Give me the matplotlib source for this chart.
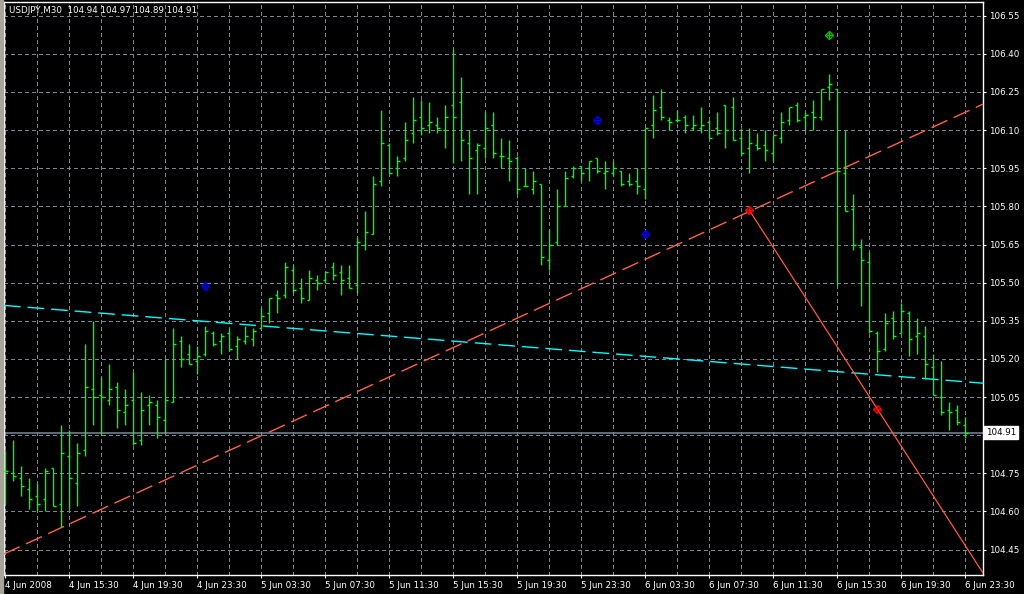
import numpy as np
import matplotlib
matplotlib.use('Agg')
import matplotlib.pyplot as plt
from matplotlib.patches import Rectangle
import matplotlib.transforms as mtransforms

# USDJPY M30, bar 0 = 4 Jun 2008 11:30
opens = [104.76, 104.75, 104.73, 104.69, 104.66, 104.65, 104.77, 104.63, 104.82, 104.71,
         104.84, 105.08, 105.06, 105.04, 105.09, 104.99, 105.04, 104.88, 105.02, 105.02,
         104.96, 105.03, 105.27, 105.22, 105.19, 105.22, 105.30, 105.27, 105.30, 105.25,
         105.27, 105.28, 105.32, 105.38, 105.45, 105.45, 105.55, 105.48, 105.43, 105.51,
         105.51, 105.56, 105.54, 105.52, 105.49, 105.65, 105.69, 105.90, 106.04, 105.95,
         105.99, 106.09, 106.15, 106.12, 106.12, 106.10, 106.20, 106.21, 106.05, 106.02,
         106.03, 106.12, 106.00, 105.99, 105.99, 105.88, 105.87, 105.89, 105.59, 105.66,
         105.80, 105.92, 105.96, 105.95, 105.99, 105.93, 105.93, 105.94, 105.90, 105.90,
         105.87, 106.12, 106.19, 106.14, 106.14, 106.15, 106.11, 106.11, 106.13, 106.11,
         106.20, 106.19, 106.07, 106.03, 106.04, 106.04, 106.01, 106.07, 106.14, 106.20,
         106.15, 106.17, 106.15, 106.27, 106.26, 105.93, 105.79, 105.64, 105.58, 105.30,
         105.24, 105.36, 105.30, 105.38, 105.29, 105.29, 105.17, 105.05, 105.00, 105.00,
         104.94]
highs = [104.84, 104.88, 104.78, 104.73, 104.71, 104.77, 104.77, 104.94, 104.92, 104.87,
         105.26, 105.35, 105.13, 105.18, 105.11, 105.08, 105.15, 105.07, 105.06, 105.04,
         105.20, 105.32, 105.29, 105.26, 105.25, 105.33, 105.31, 105.30, 105.32, 105.29,
         105.33, 105.32, 105.40, 105.44, 105.47, 105.58, 105.57, 105.52, 105.55, 105.53,
         105.54, 105.58, 105.57, 105.57, 105.68, 105.78, 105.92, 106.18, 106.05, 106.00,
         106.13, 106.23, 106.22, 106.21, 106.15, 106.20, 106.42, 106.31, 106.10, 106.05,
         106.17, 106.17, 106.07, 106.06, 106.00, 105.95, 105.94, 105.89, 105.71, 105.87,
         105.94, 105.96, 105.96, 105.98, 105.99, 105.98, 105.98, 105.94, 105.93, 105.95,
         106.11, 106.24, 106.26, 106.15, 106.18, 106.16, 106.16, 106.19, 106.14, 106.17,
         106.20, 106.23, 106.11, 106.11, 106.09, 106.10, 106.08, 106.17, 106.19, 106.21,
         106.17, 106.22, 106.26, 106.32, 106.26, 106.10, 105.85, 105.67, 105.62, 105.31,
         105.38, 105.39, 105.42, 105.39, 105.36, 105.33, 105.22, 105.19, 105.03, 105.02,
         104.97]
lows = [104.63, 104.72, 104.66, 104.61, 104.60, 104.60, 104.62, 104.54, 104.61, 104.62,
        104.82, 104.94, 104.90, 105.02, 104.93, 104.94, 104.86, 104.86, 104.94, 104.89,
        104.91, 105.03, 105.17, 105.18, 105.14, 105.21, 105.25, 105.22, 105.23, 105.20,
        105.26, 105.25, 105.32, 105.34, 105.38, 105.44, 105.46, 105.42, 105.43, 105.47,
        105.50, 105.51, 105.45, 105.48, 105.46, 105.63, 105.69, 105.88, 105.93, 105.92,
        105.98, 106.05, 106.08, 106.09, 106.09, 106.03, 105.97, 105.98, 105.85, 105.85,
        105.99, 105.99, 105.95, 105.90, 105.85, 105.88, 105.85, 105.57, 105.55, 105.65,
        105.80, 105.91, 105.90, 105.90, 105.93, 105.87, 105.92, 105.88, 105.88, 105.85,
        105.83, 106.07, 106.14, 106.10, 106.13, 106.09, 106.10, 106.09, 106.07, 106.08,
        106.03, 106.06, 106.00, 105.93, 106.02, 105.98, 105.98, 106.05, 106.12, 106.13,
        106.10, 106.10, 106.14, 106.22, 105.49, 105.78, 105.63, 105.41, 105.30, 105.15,
        105.23, 105.28, 105.30, 105.21, 105.22, 105.12, 105.06, 104.98, 104.92, 104.94,
        104.89]
closes = [104.76, 104.74, 104.70, 104.65, 104.63, 104.76, 104.62, 104.83, 104.73, 104.83,
          105.09, 105.05, 105.05, 105.08, 105.00, 105.02, 104.87, 105.00, 105.03, 104.97,
          105.04, 105.26, 105.20, 105.18, 105.21, 105.31, 105.26, 105.29, 105.24, 105.28,
          105.29, 105.31, 105.37, 105.44, 105.44, 105.56, 105.47, 105.44, 105.52, 105.50,
          105.54, 105.53, 105.51, 105.48, 105.66, 105.70, 105.89, 106.05, 105.93, 105.98,
          106.06, 106.14, 106.11, 106.13, 106.11, 106.15, 106.15, 106.06, 105.99, 106.04,
          106.11, 106.01, 106.00, 105.98, 105.87, 105.88, 105.90, 105.60, 105.65, 105.80,
          105.91, 105.95, 105.93, 105.98, 105.94, 105.94, 105.95, 105.89, 105.89, 105.88,
          106.11, 106.18, 106.15, 106.13, 106.14, 106.12, 106.12, 106.12, 106.07, 106.09,
          106.10, 106.06, 106.01, 106.05, 106.03, 106.02, 106.08, 106.13, 106.19, 106.14,
          106.16, 106.15, 106.26, 106.28, 105.94, 105.78, 105.65, 105.59, 105.31, 105.23,
          105.34, 105.29, 105.39, 105.28, 105.30, 105.18, 105.06, 104.99, 104.99, 104.95,
          104.91]

date_labels = ['4 Jun 2008', '4 Jun 15:30', '4 Jun 19:30', '4 Jun 23:30',
               '5 Jun 03:30', '5 Jun 07:30', '5 Jun 11:30', '5 Jun 15:30',
               '5 Jun 19:30', '5 Jun 23:30', '6 Jun 03:30', '6 Jun 07:30',
               '6 Jun 11:30', '6 Jun 15:30', '6 Jun 19:30', '6 Jun 23:30']
price_ticks = [104.45, 104.60, 104.75, 104.90, 105.05, 105.20, 105.35, 105.50,
               105.65, 105.80, 105.95, 106.10, 106.25, 106.40, 106.55]
bid = 104.91

# objects on the chart: (bar, price)
cyan_line = [(0, 105.41), (120, 105.11)]
orange_line = [(0, 104.435), (93, 105.78)]
red_ray = [(93, 105.785), (109, 105.003)]
blue_marks = [(25, 105.485), (74, 106.141), (80, 105.691)]
green_marks = [(103, 106.473)]
red_marks = [(93, 105.785), (109, 105.003)]

grid_col = '#778899'
bar_col = '#00ff00'

fig = plt.figure(figsize=(10.24, 5.94), dpi=100, facecolor='black')
fig.patches.append(Rectangle((0, 0), 3 / 1024, 1, transform=fig.transFigure,
                             color='#a8a49c', zorder=0))
ax = fig.add_axes([4 / 1024, 19 / 594, 979 / 1024, 573 / 594])
ax.set_facecolor('black')

x = np.arange(len(opens))
ax.vlines(x, lows, highs, color=bar_col, lw=1.0, zorder=4)
ax.hlines(opens, x - 0.32, x, color=bar_col, lw=1.0, zorder=4)
ax.hlines(closes, x, x + 0.32, color=bar_col, lw=1.0, zorder=4)

ax.set_xlim(-0.16, 122.21)
ax.set_ylim(104.35, 106.604)

# trend lines
ax.axline(cyan_line[0], cyan_line[1], color='#00ffff', lw=1.0,
          linestyle=(0, (12, 5)), zorder=3)
ax.axline(orange_line[0], orange_line[1], color='#ff6347', lw=1.0,
          linestyle=(0, (12.5, 5)), zorder=3)
(x1, y1), (x2, y2) = red_ray
slope = (y2 - y1) / (x2 - x1)
ax.plot([x1, 130], [y1, y1 + slope * (130 - x1)], color='#ff5a40', lw=0.9, zorder=3)

for pts, col in [(blue_marks, '#0000ff'), (green_marks, '#00c000'), (red_marks, '#ff0000')]:
    px = [p[0] for p in pts]
    py = [p[1] for p in pts]
    ax.plot(px, py, 'D', ms=4.5, mfc='none', mec=col, mew=1.0, zorder=5)
    ax.plot(px, py, '+', ms=4.5, mec=col, mew=1.0, zorder=5)

ax.axhline(bid, color=grid_col, lw=1.1, zorder=2)

# axes, ticks, grid
ax.set_xticks(np.arange(0, 121, 8))
ax.set_xticklabels(date_labels, ha='left')
ax.set_xticks(np.arange(0, 121, 4), minor=True)
ax.yaxis.tick_right()
ax.set_yticks(price_ticks)
# the 104.90 label sits under the bid price box
ax.set_yticklabels(['' if abs(p - bid) < 0.05 else '%.2f' % p for p in price_ticks])
ax.tick_params(colors='white', labelsize=6.3, length=2.5, width=0.8, pad=1.5)
ax.tick_params(axis='x', which='minor', length=0)
ax.grid(True, which='both', color=grid_col, linestyle=(0, (4, 3)), lw=0.72,
        antialiased=False, zorder=1)
for s in ax.spines.values():
    s.set_color('white')
    s.set_linewidth(1.0)

ax.text(0.005, 0.986, 'USDJPY,M30  104.94 104.97 104.89 104.91', transform=ax.transAxes,
        color='white', fontsize=6.3, va='center', ha='left')

trans = mtransforms.blended_transform_factory(ax.transAxes, ax.transData)
ax.text(1.003, bid, '104.91', transform=trans, color='black', fontsize=6.3,
        va='center', ha='left', zorder=10, clip_on=False,
        bbox=dict(facecolor='white', edgecolor='white', pad=1.2))

fig.savefig('out.png', dpi=100, facecolor='black')
